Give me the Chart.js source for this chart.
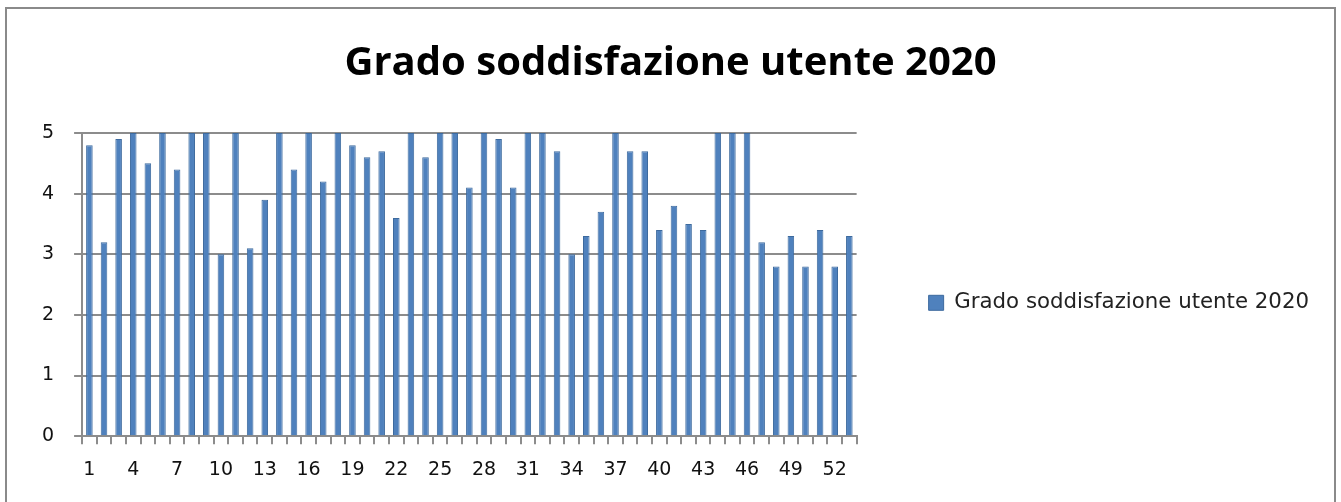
<!DOCTYPE html>
<html>
<head>
<meta charset="utf-8">
<script src="https://cdn.jsdelivr.net/npm/chart.js@4"></script>
<style>
    html, body { margin: 0; padding: 0; background: #fff; }
    #wrap { position: relative; width: 1341px; height: 502px; overflow: hidden; }
    #frame {
        position: absolute; left: 5px; top: 7px; width: 1327px; height: 520px;
        border: 2px solid #8a8a8a; pointer-events: none;
    }
    canvas { position: absolute; left: 0; top: 0; }
</style>
</head>
<body>
<div id="wrap">
    <canvas id="chart" width="1341" height="502"></canvas>
    <div id="frame"></div>
</div>
<script>
// data
const chartTitle = 'Grado soddisfazione utente 2020';
const seriesName = 'Grado soddisfazione utente 2020';
const categories = Array.from({ length: 53 }, (_, i) => String(i + 1));
const values = [
    4.8, 3.2, 4.9, 5.0, 4.5, 5.0, 4.4, 5.0, 5.0, 3.0,
    5.0, 3.1, 3.9, 5.0, 4.4, 5.0, 4.2, 5.0, 4.8, 4.6,
    4.7, 3.6, 5.0, 4.6, 5.0, 5.0, 4.1, 5.0, 4.9, 4.1,
    5.0, 5.0, 4.7, 3.0, 3.3, 3.7, 5.0, 4.7, 4.7, 3.4,
    3.8, 3.5, 3.4, 5.0, 5.0, 5.0, 3.2, 2.8, 3.3, 2.8,
    3.4, 2.8, 3.3
];
const yTicks = [0, 1, 2, 3, 4, 5];

const TITLE_FONT = "'Open Sans', 'Noto Sans', sans-serif";
const FONT = "'DejaVu Sans', sans-serif";
const GRID = '#8c8c8c';

new Chart(document.getElementById('chart'), {
    type: 'bar',
    data: {
        labels: categories,
        datasets: [{
            label: seriesName,
            data: values,
            backgroundColor: '#4f81bd',
            borderColor: '#3d6a9e',
            borderWidth: 1,
            barPercentage: 0.45,
            categoryPercentage: 1.0
        }]
    },
    options: {
        responsive: false,
        animation: false,
        layout: { padding: { top: 14, left: 22, right: 22, bottom: 7 } },
        plugins: {
            title: {
                display: true,
                text: chartTitle,
                color: '#000',
                font: { family: TITLE_FONT, size: 40, weight: 'bold' },
                padding: { top: 26, bottom: 45 }
            },
            legend: {
                position: 'right',
                fullSize: false,
                maxWidth: 600,
                title: {
                    display: true,
                    text: '',
                    font: { size: 12 },
                    padding: { top: 11, bottom: 11 }
                },
                labels: {
                    color: '#222',
                    font: { family: FONT, size: 21.3 },
                    boxWidth: 15,
                    boxHeight: 15,
                    padding: 72
                }
            },
            tooltip: { enabled: false }
        },
        scales: {
            x: {
                grid: {
                    offset: true,
                    drawOnChartArea: false,
                    drawTicks: true,
                    tickLength: 8,
                    color: GRID,
                    lineWidth: 2
                },
                border: { display: true, color: GRID, width: 2 },
                ticks: {
                    autoSkip: false,
                    maxRotation: 0,
                    color: '#111',
                    font: { family: FONT, size: 19 },
                    padding: 14,
                    callback: function (val, i) {
                        return i % 3 === 0 ? categories[i] : '';
                    }
                }
            },
            y: {
                min: 0,
                max: 5,
                afterBuildTicks: function (axis) {
                    axis.ticks = yTicks.map(v => ({ value: v }));
                },
                grid: {
                    color: GRID,
                    lineWidth: 2,
                    drawTicks: true,
                    tickLength: 8
                },
                border: { display: true, color: GRID, width: 2 },
                ticks: {
                    color: '#111',
                    font: { family: FONT, size: 19 },
                    padding: 20
                }
            }
        }
    }
});
</script>
</body>
</html>
